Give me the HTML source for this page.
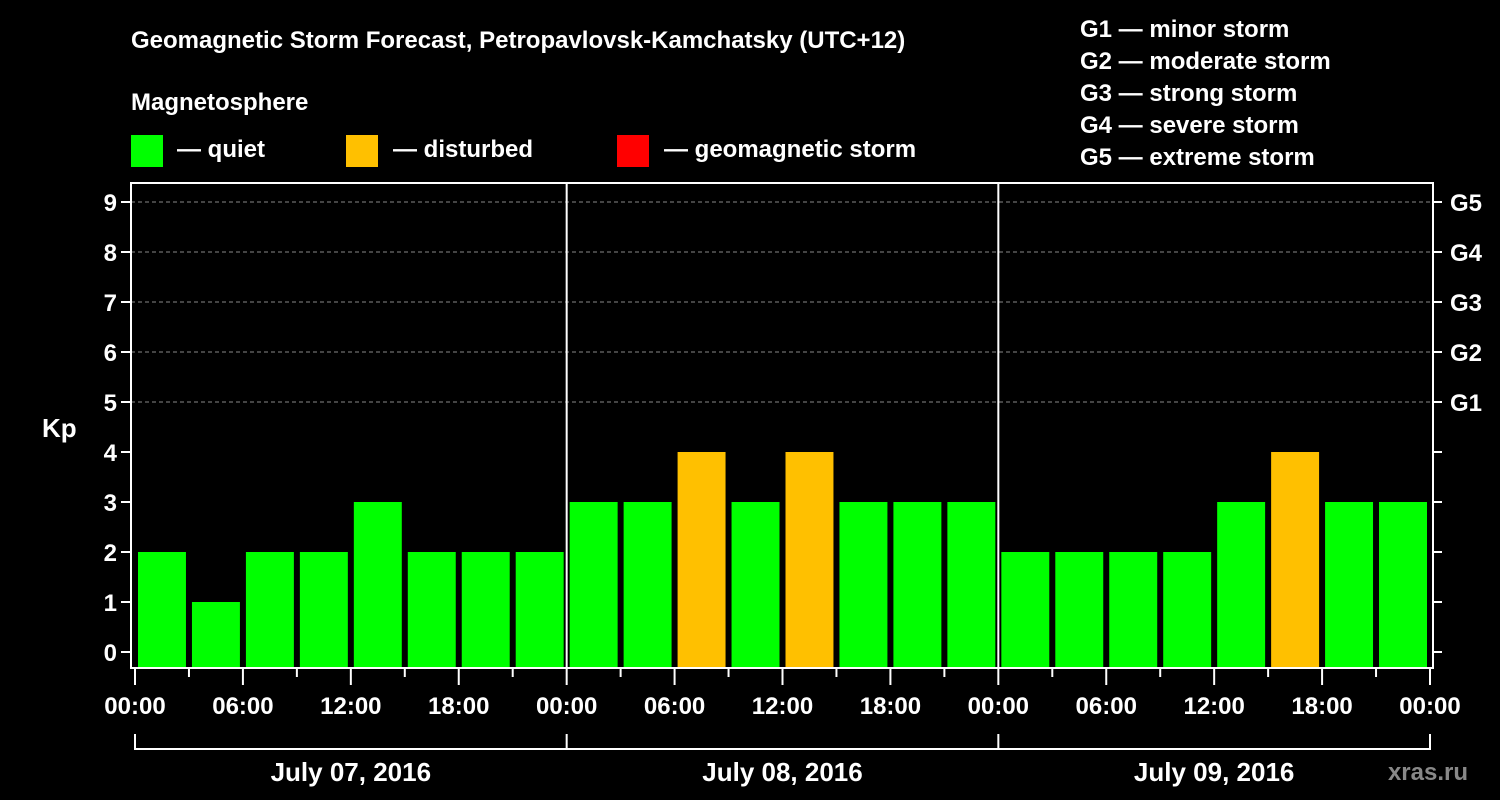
<!DOCTYPE html>
<html><head><meta charset="utf-8"><style>
html,body{margin:0;padding:0;background:#000;}
svg{display:block;font-family:"Liberation Sans",Arial,sans-serif;font-weight:bold;}
</style></head><body>
<svg id="chart" width="1500" height="800" viewBox="0 0 1500 800">
<rect x="0" y="0" width="1500" height="800" fill="#000"/>
<text x="131" y="48" fill="#fff" font-size="24">Geomagnetic Storm Forecast, Petropavlovsk-Kamchatsky (UTC+12)</text>
<text x="131" y="110" fill="#fff" font-size="24">Magnetosphere</text>
<g>
<rect x="131" y="135" width="32" height="32" fill="#00ff00"/>
<text x="177" y="157" fill="#fff" font-size="24">— quiet</text>
<rect x="346" y="135" width="32" height="32" fill="#ffc000"/>
<text x="393" y="157" fill="#fff" font-size="24">— disturbed</text>
<rect x="617" y="135" width="32" height="32" fill="#ff0000"/>
<text x="664" y="157" fill="#fff" font-size="24">— geomagnetic storm</text>
</g>
<g font-size="24" fill="#fff">
<text x="1080" y="37">G1 — minor storm</text>
<text x="1080" y="69">G2 — moderate storm</text>
<text x="1080" y="101">G3 — strong storm</text>
<text x="1080" y="133">G4 — severe storm</text>
<text x="1080" y="165">G5 — extreme storm</text>
</g>
<text x="42" y="437" fill="#fff" font-size="26">Kp</text>
<text x="1468" y="780" fill="#888" font-size="24" text-anchor="end">xras.ru</text>
<g id="grid"></g><g id="bars"></g><g id="axes"></g>
</svg>
<script>
const kpValues=[2,1,2,2,3,2,2,2, 3,3,4,3,4,3,3,3, 2,2,2,2,3,4,3,3];
const yTicks=[0,1,2,3,4,5,6,7,8,9];
const gLabels=["G1","G2","G3","G4","G5"];
const gLevels=[5,6,7,8,9];
const timeLabels=["00:00","06:00","12:00","18:00","00:00","06:00","12:00","18:00","00:00","06:00","12:00","18:00","00:00"];
const dayLabels=["July 07, 2016","July 08, 2016","July 09, 2016"];
const NS="http://www.w3.org/2000/svg";
const X0=135,X1=1430,L=131,R=1433,T=183,B=668;
const slot=(X1-X0)/kpValues.length;
const xs=i=>X0+i*slot;
const ys=v=>652-v*50;
function mk(tag,attrs,parent){const e=document.createElementNS(NS,tag);for(const k in attrs)e.setAttribute(k,attrs[k]);parent.appendChild(e);return e;}
const grid=document.getElementById('grid'),bars=document.getElementById('bars'),axes=document.getElementById('axes');
gLevels.forEach((v)=>{const l=mk('line',{x1:L,x2:R,y1:ys(v),y2:ys(v),stroke:'#888','stroke-dasharray':'4,3','stroke-width':1},grid);

});
kpValues.forEach((v,i)=>{const c=v>=5?'#ff0000':(v>=4?'#ffc000':'#00ff00');
const r=mk('rect',{x:xs(i)+3,y:ys(v),width:slot-6,height:B-ys(v),fill:c},bars);

});
const frame=mk('rect',{x:L,y:T,width:R-L,height:B-T,fill:'none',stroke:'#fff','stroke-width':2},axes);


for(let d=1;d<dayLabels.length;d++){const x=xs(d*8);const l=mk('line',{x1:x,x2:x,y1:T,y2:B,stroke:'#fff','stroke-width':2},axes);

}
yTicks.forEach(v=>{mk('line',{x1:L-10,x2:L,y1:ys(v),y2:ys(v),stroke:'#fff','stroke-width':2},axes);
const t=mk('text',{x:L-14,y:ys(v)+9,fill:'#fff','font-size':24,'text-anchor':'end'},axes);t.textContent=v;


mk('line',{x1:R,x2:R+9,y1:ys(v),y2:ys(v),stroke:'#fff','stroke-width':2},axes);});
gLabels.forEach((g,i)=>{const t=mk('text',{x:1450,y:ys(gLevels[i])+9,fill:'#fff','font-size':24},axes);t.textContent=g;

});
for(let i=0;i<=kpValues.length;i++){const major=i%2===0;
mk('line',{x1:xs(i),x2:xs(i),y1:B,y2:B+(major?17:9),stroke:'#fff','stroke-width':2},axes);}
timeLabels.forEach((s,j)=>{const t=mk('text',{x:xs(j*2),y:714,fill:'#fff','font-size':24,'text-anchor':'middle'},axes);t.textContent=s;

});
dayLabels.forEach((s,d)=>{const a=xs(d*8),b=xs(d*8+8);
const p=mk('path',{d:`M${a},734V749H${b}`+(d===dayLabels.length-1?`V734`:''),stroke:'#fff','stroke-width':2,fill:'none'},axes);


const t=mk('text',{x:(a+b)/2,y:781,fill:'#fff','font-size':26,'text-anchor':'middle'},axes);t.textContent=s;

});
</script>
</body></html>
